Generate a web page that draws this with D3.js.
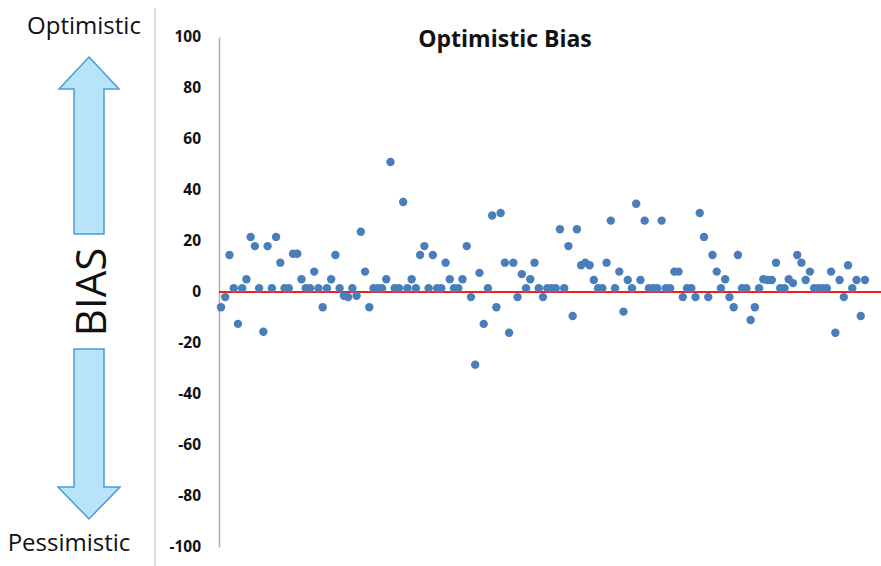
<!DOCTYPE html>
<html>
<head>
<meta charset="utf-8">
<script src="https://cdn.jsdelivr.net/npm/d3@7"></script>
<style>
  body { margin: 0; background: #fff; }
  svg { display: block; }
</style>
</head>
<body>
<svg id="chart" width="881" height="566"></svg>
<script>
const bias = [
  -6, -2, 14.5, 1.5, -12.5, 1.5, 5, 21.6, 18, 1.5,
  -15.6, 18, 1.5, 21.6, 11.5, 1.5, 1.5, 15, 15, 5,
  1.5, 1.5, 8, 1.5, -6, 1.5, 5, 14.5, 1.5, -1.5,
  -2, 1.5, -1.5, 23.6, 8, -6, 1.5, 1.5, 1.5, 5,
  51, 1.5, 1.5, 35.3, 1.5, 5, 1.5, 14.5, 18, 1.5,
  14.5, 1.5, 1.5, 11.5, 5, 1.5, 1.5, 5, 18, -2,
  -28.5, 7.5, -12.5, 1.5, 30, -6, 31, 11.5, -16, 11.5,
  -2, 7, 1.5, 5, 11.5, 1.5, -2, 1.5, 1.5, 1.5,
  24.6, 1.5, 18, -9.4, 24.6, 10.5, 11.5, 10.5, 4.7, 1.5,
  1.5, 11.5, 28, 1.5, 8, -7.7, 4.7, 1.5, 34.6, 4.7,
  28, 1.5, 1.5, 1.5, 28, 1.5, 1.5, 8, 8, -2,
  1.5, 1.5, -2, 31, 21.6, -2, 14.5, 8, 1.5, 5,
  -2, -6, 14.5, 1.5, 1.5, -11, -6, 1.5, 5, 4.7,
  4.7, 11.5, 1.5, 1.5, 5, 3.5, 14.5, 11.5, 4.7, 8,
  1.5, 1.5, 1.5, 1.5, 8, -16, 4.7, -2, 10.5, 1.5,
  4.7, -9.4, 4.7
]
const yTicks = [100, 80, 60, 40, 20, 0, -20, -40, -60, -80, -100]
const title = 'Optimistic Bias'
const sideLabels = { top: 'Optimistic', middle: 'BIAS', bottom: 'Pessimistic' }

const svg = d3.select('#chart')

const x = d3.scaleLinear()
  .domain([1, bias.length])
  .range([221, 865])

const y = d3.scaleLinear()
  .domain([-100, 100])
  .range([547, 37])

// left panel: labels and arrows
svg.append('line')
  .attr('x1', 155).attr('x2', 155)
  .attr('y1', 8).attr('y2', 566)
  .attr('stroke', '#d0d0d0')
  .attr('stroke-width', 1.5)

svg.append('text')
  .attr('x', 84).attr('y', 34)
  .attr('text-anchor', 'middle')
  .attr('font-family', 'Open Sans, sans-serif')
  .attr('font-size', 24)
  .attr('fill', '#111')
  .text(sideLabels.top)

svg.append('text')
  .attr('x', 69).attr('y', 551)
  .attr('text-anchor', 'middle')
  .attr('font-family', 'Open Sans, sans-serif')
  .attr('font-size', 24)
  .attr('fill', '#111')
  .text(sideLabels.bottom)

svg.append('text')
  .attr('transform', 'translate(106,292) rotate(-90)')
  .attr('text-anchor', 'middle')
  .attr('font-family', 'Open Sans, sans-serif')
  .attr('font-size', 42)
  .attr('fill', '#111')
  .text(sideLabels.middle)

const arrowUp = [[89, 57], [119, 89], [104, 89], [104, 234], [74, 234], [74, 89], [59, 89]]
const arrowDown = [[74, 349], [104, 349], [104, 487], [120, 487], [89, 519], [58, 487], [74, 487]]

svg.selectAll('.arrow')
  .data([arrowUp, arrowDown])
  .enter()
  .append('path')
  .attr('class', 'arrow')
  .attr('d', d => d3.line()(d) + 'Z')
  .attr('fill', '#b7e4f8')
  .attr('stroke', '#4a9ad6')
  .attr('stroke-width', 1.5)

// chart
svg.append('text')
  .attr('x', 505).attr('y', 47)
  .attr('text-anchor', 'middle')
  .attr('font-family', 'Open Sans, sans-serif')
  .attr('font-weight', 'bold')
  .attr('font-size', 23)
  .attr('fill', '#111')
  .text(title)

const yAxis = svg.append('g')
  .attr('transform', 'translate(219,0)')
  .call(d3.axisLeft(y).tickValues(yTicks).tickSize(0).tickPadding(18).tickFormat(d => String(d)))

yAxis.select('.domain')
  .attr('stroke', '#b0b0b0')
  .attr('stroke-width', 1.5)

yAxis.selectAll('text')
  .attr('font-family', 'Open Sans, sans-serif')
  .attr('font-weight', 'bold')
  .attr('font-size', 15.5)
  .attr('fill', '#111')

svg.append('line')
  .attr('x1', 219).attr('x2', 881)
  .attr('y1', y(0)).attr('y2', y(0))
  .attr('stroke', '#f02020')
  .attr('stroke-width', 2)

svg.selectAll('.dot')
  .data(bias)
  .enter()
  .append('circle')
  .attr('class', 'dot')
  .attr('cx', (d, i) => x(i + 1))
  .attr('cy', d => y(d))
  .attr('r', 4.2)
  .attr('fill', '#4a7ebb')
</script>
</body>
</html>
